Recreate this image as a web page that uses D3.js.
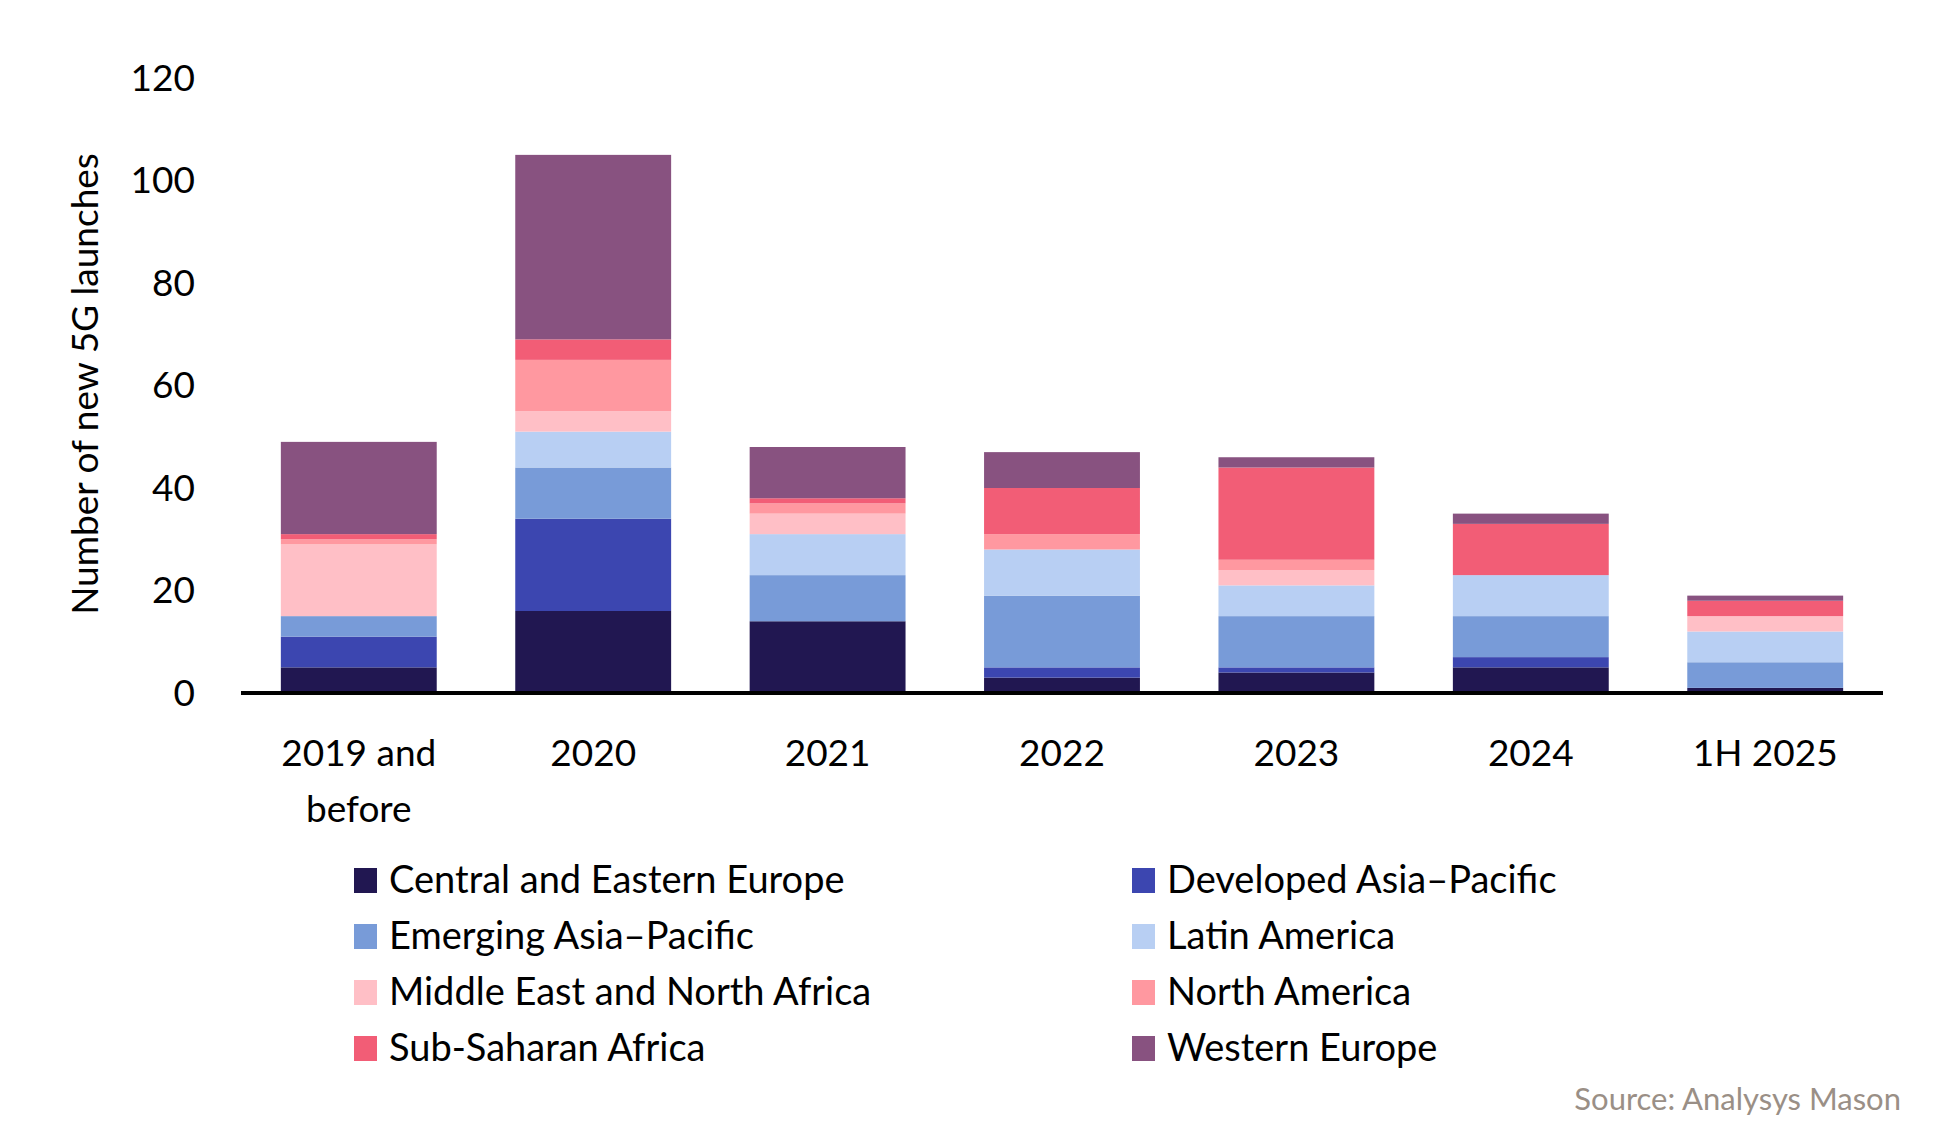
<!DOCTYPE html>
<html><head><meta charset="utf-8">
<script src="https://cdn.jsdelivr.net/npm/d3@7"></script>
<style>body{margin:0;background:#fff}text{font-family:Lato,"Open Sans",sans-serif}</style>
</head><body><svg id="c" width="1934" height="1123"></svg>
<script>
var categories = ['2019 and before', '2020', '2021', '2022', '2023', '2024', '1H 2025'];
var regions = ['Central and Eastern Europe', 'Developed Asia\u2013Pacific', 'Emerging Asia\u2013Pacific', 'Latin America',
  'Middle East and North Africa', 'North America', 'Sub-Saharan Africa', 'Western Europe'];
var colors = ['#211751', '#3c46b0', '#789bd8', '#b8cff3', '#ffbfc6', '#ff98a0', '#f25d76', '#885280'];
var cee  = [5, 16, 14, 3, 4, 5, 1];
var dap  = [6, 18, 0, 2, 1, 2, 0];
var eap  = [4, 10, 9, 14, 10, 8, 5];
var lat  = [0, 7, 8, 9, 6, 8, 6];
var mena = [14, 4, 4, 0, 3, 0, 3];
var nam  = [1, 10, 2, 3, 2, 0, 0];
var ssa  = [1, 4, 1, 9, 18, 10, 3];
var weu  = [18, 36, 10, 7, 2, 2, 1];
var yTicks = [0, 20, 40, 60, 80, 100, 120];

var series = [cee, dap, eap, lat, mena, nam, ssa, weu];
var rows = categories.map(function(c, i) {
  var r = {cat: c};
  regions.forEach(function(k, j) { r[k] = series[j][i]; });
  return r;
});
var stacked = d3.stack().keys(regions)(rows);

var svg = d3.select('#c');
var x = d3.scaleBand().domain(categories).range([241, 1883]).paddingInner(0.335).paddingOuter(0.17);
var y = d3.scaleLinear().domain([0, 120]).range([693, 78]);

svg.append('g').selectAll('g').data(stacked).enter().append('g')
  .attr('fill', function(d, i) { return colors[i]; })
  .selectAll('rect').data(function(d) { return d; }).enter().append('rect')
  .attr('x', function(d) { return x(d.data.cat); })
  .attr('width', x.bandwidth())
  .attr('y', function(d) { return y(d[1]); })
  .attr('height', function(d) { return y(d[0]) - y(d[1]); });

svg.append('line').attr('x1', 241).attr('x2', 1883).attr('y1', y(0)).attr('y2', y(0))
  .attr('stroke', '#000').attr('stroke-width', 4);

svg.append('g').selectAll('text').data(yTicks).enter().append('text')
  .attr('x', 195).attr('y', function(d) { return y(d); }).attr('dy', '0.35em')
  .attr('text-anchor', 'end').attr('font-size', 37).text(function(d) { return d; });

svg.append('text').attr('transform', 'translate(98,384) rotate(-90)')
  .attr('text-anchor', 'middle').attr('font-size', 37).text('Number of new 5G launches');

var xl = svg.append('g').selectAll('text').data(categories).enter().append('text')
  .attr('x', function(d) { return x(d) + x.bandwidth() / 2; })
  .attr('y', 766).attr('text-anchor', 'middle').attr('font-size', 37);
xl.each(function(d) {
  var t = d3.select(this);
  var parts = d === '2019 and before' ? ['2019 and', 'before'] : [d];
  parts.forEach(function(p, i) {
    t.append('tspan').attr('x', x(d) + x.bandwidth() / 2).attr('dy', i ? 56 : 0).text(p);
  });
});

var lg = svg.append('g').selectAll('g').data(regions).enter().append('g')
  .attr('transform', function(d, i) { return 'translate(' + (i % 2 ? 1132 : 354) + ',' + (880 + Math.floor(i / 2) * 56) + ')'; });
lg.append('rect').attr('y', -12).attr('width', 23).attr('height', 25)
  .attr('fill', function(d, i) { return colors[i]; });
lg.append('text').attr('x', 35).attr('dy', '0.35em').attr('font-size', 38).text(function(d) { return d; });

svg.append('text').attr('x', 1901).attr('y', 1110).attr('text-anchor', 'end')
  .attr('font-size', 31).attr('fill', '#9a8f86').text('Source: Analysys Mason');
</script></body></html>
